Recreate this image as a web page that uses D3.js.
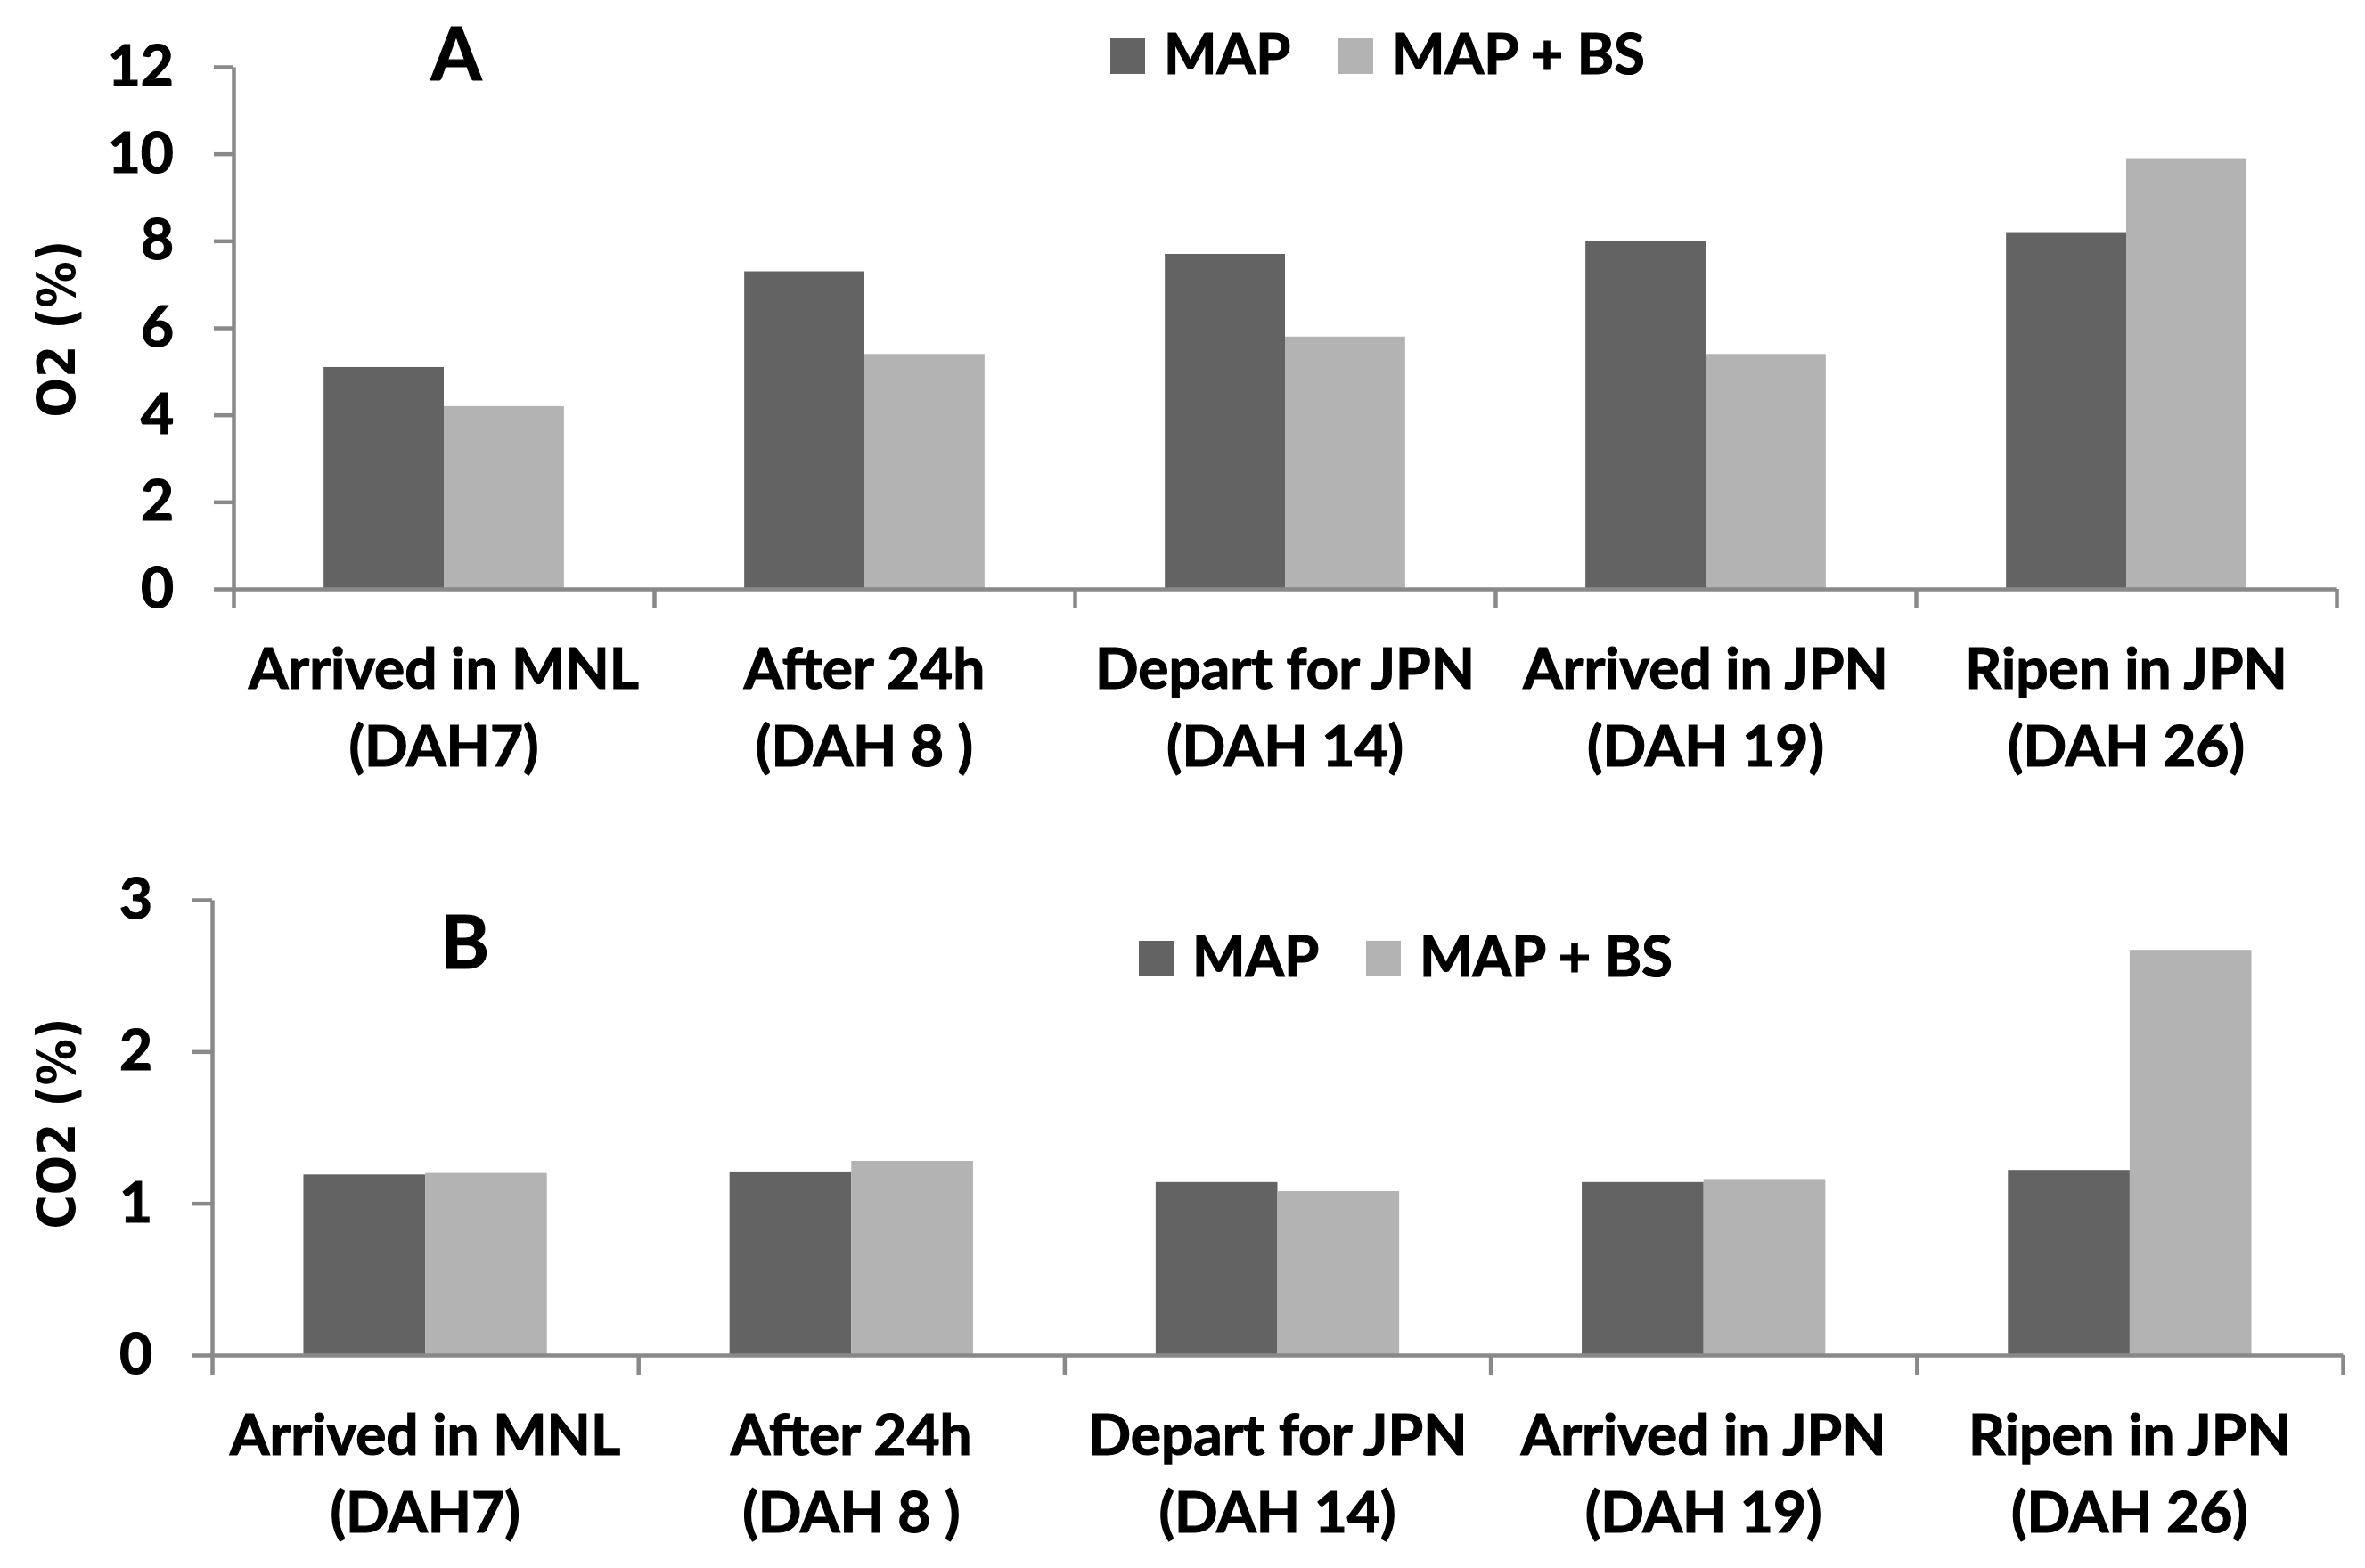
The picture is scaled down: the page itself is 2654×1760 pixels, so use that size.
<!DOCTYPE html>
<html>
<head>
<meta charset="utf-8">
<script src="https://cdn.jsdelivr.net/npm/d3@7"></script>
<style>
  body { margin: 0; background: #fff; }
  svg { display: block; }
</style>
</head>
<body>
<div id="chart"></div>
<script>
// categories (line break splits the two label lines)
const categories = [
    "Arrived in MNL\n(DAH7)",
    "After 24h\n(DAH 8 )",
    "Depart for JPN\n(DAH 14)",
    "Arrived in JPN\n(DAH 19)",
    "Ripen in JPN\n(DAH 26)"
];
const seriesNames = ["MAP", "MAP + BS"];

// panel A: O2 (%)
const o2Map = [5.1, 7.3, 7.7, 8.0, 8.2];
const o2MapBs = [4.2, 5.4, 5.8, 5.4, 9.9];
const o2Ticks = [0, 2, 4, 6, 8, 10, 12];

// panel B: CO2 (%)
const co2Map = [1.19, 1.21, 1.14, 1.14, 1.22];
const co2MapBs = [1.20, 1.28, 1.08, 1.16, 2.67];
const co2Ticks = [0, 1, 2, 3];

const width = 2654,
    height = 1760,
    colors = ["#636363", "#b3b3b3"],
    axisColor = "#898989",
    axisWidth = 4.5,
    labelFont = "Lato, 'Open Sans', sans-serif",
    yTitleFont = "'DejaVu Sans Condensed', 'DejaVu Sans', sans-serif";

const svg = d3.select("#chart")
    .append("svg")
    .attr("width", width)
    .attr("height", height)
    .attr("viewBox", [0, 0, width, height]);

svg.append("rect").attr("width", width).attr("height", height).attr("fill", "#fff");

// bold text is a touch heavier in the original, so give it a thin stroke
const heavy = sel => sel
    .attr("fill", "#000")
    .attr("stroke", "#000")
    .attr("stroke-width", 1.2)
    .attr("font-family", labelFont)
    .attr("font-weight", 700);

const drawPanel = (opt) => {
    const g = svg.append("g");
    const rows = categories.map((c, i) => ({ cat: c, values: [opt.a[i], opt.b[i]] }));

    const x0 = d3.scaleBand().domain(categories).range([opt.left, opt.right]);
    const x1 = d3.scaleBand().domain(seriesNames).range([0, x0.bandwidth()]).paddingOuter(0.75);
    const y = d3.scaleLinear().domain([0, d3.max(opt.ticks)]).range([opt.bottom, opt.top]);
    const color = d3.scaleOrdinal(seriesNames, colors);

    // bars
    g.append("g")
        .selectAll("g")
        .data(rows)
        .join("g")
        .attr("transform", d => `translate(${x0(d.cat)},0)`)
        .selectAll("rect")
        .data(d => d.values.map((v, j) => ({ name: seriesNames[j], value: v })))
        .join("rect")
        .attr("x", d => x1(d.name))
        .attr("width", x1.bandwidth())
        .attr("y", d => y(d.value))
        .attr("height", d => y(0) - y(d.value))
        .attr("fill", d => color(d.name));

    // y axis
    const yAxis = g.append("g")
        .attr("transform", `translate(${opt.left},0)`)
        .call(d3.axisLeft(y)
            .tickValues(opt.ticks)
            .tickFormat(d3.format("d"))
            .tickSize(22)
            .tickSizeOuter(0)
            .tickPadding(45));

    // x axis: ticks sit between categories
    const xEdge = d3.scaleLinear().domain([0, categories.length]).range([opt.left, opt.right]);
    const xAxis = g.append("g")
        .attr("transform", `translate(0,${opt.bottom})`)
        .call(d3.axisBottom(xEdge).ticks(categories.length).tickFormat("").tickSize(22).tickSizeOuter(0));

    [yAxis, xAxis].forEach(ax => {
        ax.selectAll("path, line").attr("stroke", axisColor).attr("stroke-width", axisWidth);
    });
    yAxis.selectAll("text")
        .call(heavy)
        .attr("font-size", 64);

    // category labels
    g.append("g")
        .call(heavy)
        .attr("font-size", 64)
        .attr("text-anchor", "middle")
        .selectAll("text")
        .data(categories)
        .join("text")
        .attr("transform", d => `translate(${x0(d) + x0.bandwidth() / 2},${opt.bottom + 112})`)
        .selectAll("tspan")
        .data(d => d.split(/\n/))
        .join("tspan")
        .attr("x", 0)
        .attr("y", (_, i) => i * 87)
        .text(d => d);

    // y title
    g.append("text")
        .attr("transform", `translate(84,${opt.yTitleY}) rotate(-90)`)
        .attr("text-anchor", "middle")
        .attr("font-family", yTitleFont)
        .attr("font-weight", 700)
        .attr("font-size", 58)
        .text(opt.yTitle);

    // panel letter
    g.append("text")
        .call(heavy)
        .attr("x", opt.letterX)
        .attr("y", opt.letterY)
        .attr("text-anchor", "middle")
        .attr("font-size", 82)
        .text(opt.letter);

    // legend
    const legendG = g.append("g")
        .call(heavy)
        .attr("font-size", 63)
        .selectAll("g")
        .data(seriesNames)
        .join("g")
        .attr("transform", (d, i) => `translate(${opt.legendX[i]},${opt.legendY})`);

    legendG.append("rect")
        .attr("y", -40)
        .attr("width", 39)
        .attr("height", 40)
        .attr("stroke", "none")
        .attr("fill", d => color(d));

    legendG.append("text")
        .attr("x", 60)
        .text(d => d);
};

drawPanel({
    a: o2Map, b: o2MapBs, ticks: o2Ticks,
    left: 262, right: 2622, top: 75, bottom: 661,
    yTitle: "O2 (%)", yTitleY: 369,
    letter: "A", letterX: 512, letterY: 90,
    legendX: [1246, 1502], legendY: 83
});

drawPanel({
    a: co2Map, b: co2MapBs, ticks: co2Ticks,
    left: 238, right: 2629, top: 1010, bottom: 1521,
    yTitle: "CO2 (%)", yTitleY: 1261,
    letter: "B", letterX: 522, letterY: 1087,
    legendX: [1278, 1533], legendY: 1096
});
</script>
</body>
</html>
